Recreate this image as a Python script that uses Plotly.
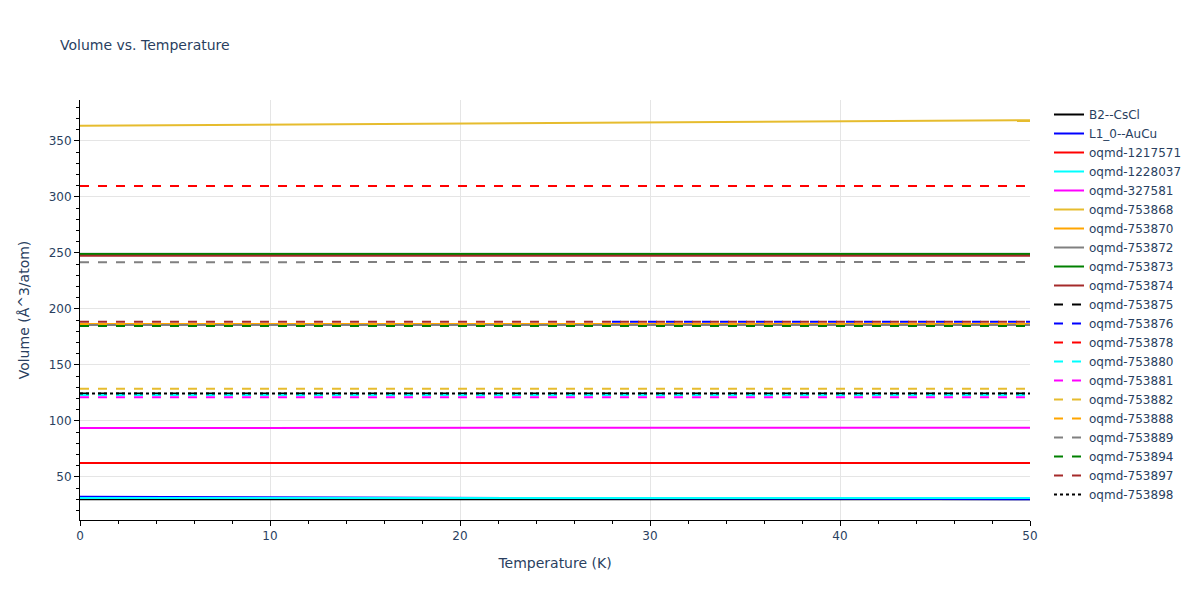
import plotly.graph_objects as go

temps = [0, 10, 20, 30, 40, 50]
temps_late = [28, 30, 40, 50]

names = ["B2--CsCl", "L1_0--AuCu", "oqmd-1217571", "oqmd-1228037", "oqmd-327581",
         "oqmd-753868", "oqmd-753870", "oqmd-753872", "oqmd-753873", "oqmd-753874",
         "oqmd-753875", "oqmd-753876", "oqmd-753878", "oqmd-753880", "oqmd-753881",
         "oqmd-753882", "oqmd-753888", "oqmd-753889", "oqmd-753894", "oqmd-753897",
         "oqmd-753898"]

colors = ["black", "blue", "red", "cyan", "magenta", "#e6bc2e", "orange", "gray",
          "green", "brown", "black", "blue", "red", "cyan", "magenta", "#e6bc2e",
          "orange", "gray", "green", "brown", "black"]

dashes = ["solid"] * 10 + ["dash"] * 10 + ["dot"]

volumes = {
    "B2--CsCl": [30.2, 30.2, 30.2, 30.2, 30.2, 30.2],
    "L1_0--AuCu": [32.3, 31.9, 31.4, 30.9, 30.5, 30.1],
    "oqmd-1217571": [62.5, 62.5, 62.5, 62.5, 62.5, 62.5],
    "oqmd-1228037": [31.3, 31.3, 31.3, 31.3, 31.3, 31.3],
    "oqmd-327581": [93.8, 93.8, 93.9, 93.9, 94.0, 94.0],
    "oqmd-753868": [363.5, 364.5, 365.5, 366.5, 367.5, 368.5],
    "oqmd-753870": [186.5, 186.5, 186.5, 186.5, 186.5, 186.5],
    "oqmd-753872": [185.7, 185.7, 185.7, 185.7, 185.7, 185.7],
    "oqmd-753873": [249.2, 249.2, 249.2, 249.2, 249.2, 249.2],
    "oqmd-753874": [247.6, 247.6, 247.6, 247.6, 247.6, 247.6],
    "oqmd-753875": [124.6, 124.6, 124.6, 124.6, 124.6, 124.6],
    "oqmd-753876": [188.7, 188.7, 188.7, 188.7],
    "oqmd-753878": [309.8, 309.8, 309.8, 309.8, 309.8, 309.8],
    "oqmd-753880": [123.2, 123.2, 123.2, 123.2, 123.2, 123.2],
    "oqmd-753881": [121.3, 121.3, 121.3, 121.3, 121.3, 121.3],
    "oqmd-753882": [128.7, 128.7, 128.7, 128.7, 128.7, 128.7],
    "oqmd-753888": [186.3, 186.3, 186.3, 186.3, 186.3, 186.3],
    "oqmd-753889": [241.8, 241.8, 241.9, 241.9, 242.0, 242.0],
    "oqmd-753894": [184.9, 184.9, 184.9, 184.9, 184.9, 184.9],
    "oqmd-753897": [188.7, 188.7, 188.7, 188.7, 188.7, 188.7],
    "oqmd-753898": [124.6, 124.6, 124.6, 124.6, 124.6, 124.6],
}

fig = go.Figure()
for name, color, dash in zip(names, colors, dashes):
    ys = volumes[name]
    xs = temps if len(ys) == len(temps) else temps_late
    fig.add_trace(go.Scatter(x=xs, y=ys, mode="lines", name=name,
                             line=dict(color=color, dash=dash, width=2)))

axis_common = dict(showline=True, linecolor="black", linewidth=1, ticks="outside",
                   tickcolor="black", showgrid=True, gridcolor="#e5e5e5", zeroline=False)

fig.update_layout(
    template="plotly_white",
    width=1200, height=600,
    font=dict(family="DejaVu Sans"),
    title=dict(text="Volume vs. Temperature", x=0.05, font=dict(size=14)),
    xaxis=dict(title="Temperature (K)", range=[0, 50], dtick=10,
               minor=dict(ticks="outside", dtick=2, tickcolor="black", showgrid=False),
               **axis_common),
    yaxis=dict(title="Volume (Å^3/atom)", range=[11.6, 386.6], dtick=50,
               minor=dict(ticks="outside", dtick=10, tickcolor="black", showgrid=False),
               **axis_common),
    legend=dict(font=dict(size=12)),
    margin=dict(l=80, r=170, t=100, b=80),
)

fig.write_html("out.html", config={"displayModeBar": False},
               post_script="document.body.style.margin='0';")
